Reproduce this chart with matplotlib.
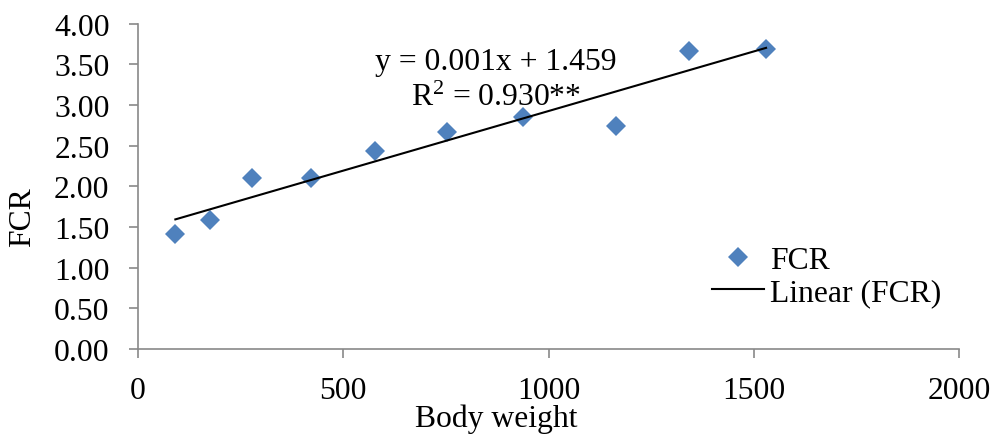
import numpy as np
import matplotlib
matplotlib.use("Agg")
import matplotlib.pyplot as plt
from matplotlib.ticker import FormatStrFormatter, MultipleLocator

# Feed conversion ratio against body weight
body_weight = [91, 175, 277, 421, 578, 753, 939, 1164, 1343, 1530]
fcr = [1.42, 1.59, 2.10, 2.10, 2.44, 2.67, 2.85, 2.74, 3.66, 3.69]

equation_label = "y = 0.001x + 1.459"
r2_label = r"R$^{2}$ = 0.930**"

plt.rcParams["font.family"] = ["Liberation Serif", "DejaVu Serif"]
plt.rcParams["mathtext.fontset"] = "custom"
plt.rcParams["mathtext.rm"] = "Liberation Serif"
plt.rcParams["mathtext.it"] = "Liberation Serif:italic"

FS = 22.8
W, H = 994, 435
fig = plt.figure(figsize=(W / 100, H / 100), dpi=100)
ax = fig.add_axes([138 / W, 1 - 350 / H, (959 - 138) / W, (350 - 24.7) / H])

blue = "#4F81BD"
axis_grey = "#898989"

ax.plot(body_weight, fcr, linestyle="none", marker="D", markersize=10.2,
        color=blue, markeredgewidth=0, label="FCR", zorder=3)

# least-squares trend line over the observed range
slope, intercept = np.polyfit(body_weight, fcr, 1)
xs = np.array([min(body_weight), max(body_weight)])
ax.plot(xs, slope * xs + intercept, color="black", linewidth=1.5,
        label="Linear (FCR)", zorder=4)

ax.set_xlim(0, 2000)
ax.set_ylim(0, 4)
ax.xaxis.set_major_locator(MultipleLocator(500))
ax.yaxis.set_major_locator(MultipleLocator(0.5))
ax.yaxis.set_major_formatter(FormatStrFormatter("%.2f"))

for side in ("top", "right"):
    ax.spines[side].set_visible(False)
for side in ("left", "bottom"):
    ax.spines[side].set_color(axis_grey)
    ax.spines[side].set_linewidth(1.2)

ax.tick_params(axis="both", direction="out", length=6.5, width=1.2,
               color=axis_grey, labelsize=FS, labelcolor="black")
ax.tick_params(axis="x", pad=13)
ax.tick_params(axis="y", pad=14)

ax.set_xlabel("Body weight", fontsize=FS)
ax.xaxis.label.set_va("baseline")
ax.xaxis.set_label_coords((496.5 - 138) / 821, (350 - 427) / 325.3)

ax.set_ylabel("FCR", fontsize=FS)
ax.yaxis.label.set_va("center")
ax.yaxis.label.set_ha("center")
ax.yaxis.set_label_coords((23 - 138) / 821, (350 - 217) / 325.3)

ax.text((496 - 138) / 821, (350 - 70) / 325.3, equation_label,
        transform=ax.transAxes, ha="center", va="baseline", fontsize=FS)
ax.text((496.5 - 138) / 821, (350 - 106.5) / 325.3, r2_label,
        transform=ax.transAxes, ha="center", va="baseline", fontsize=FS)

ax.legend(loc="upper left", bbox_to_anchor=((712 - 138) / 821, (350 - 247) / 325.3),
          frameon=False, fontsize=FS, borderpad=0, borderaxespad=0,
          handlelength=1.63, handletextpad=0.2, labelspacing=0.1,
          numpoints=1)

fig.savefig("out.png", dpi=100)
